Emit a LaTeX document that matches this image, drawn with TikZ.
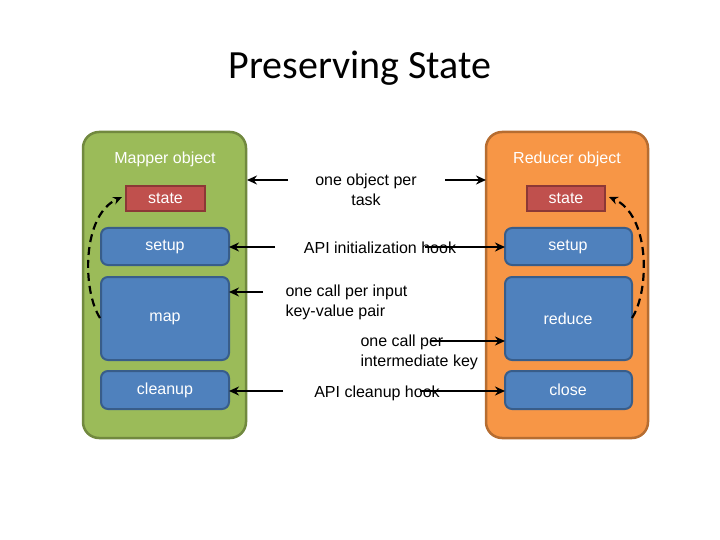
\documentclass[tikz,border=0pt]{standalone}
\usepackage{fontspec}
\setmainfont{Liberation Sans}
\newfontfamily\titlefont{Carlito}
\usetikzlibrary{arrows.meta}
\definecolor{grn}{HTML}{9BBB59}\definecolor{grnd}{HTML}{71893F}
\definecolor{org}{HTML}{F79646}\definecolor{orgd}{HTML}{B66D31}
\definecolor{blu}{HTML}{4F81BD}\definecolor{blud}{HTML}{385D8A}
\definecolor{rd}{HTML}{C0504D}\definecolor{rdd}{HTML}{8C3836}
\tikzset{
 panel/.style={rounded corners=16pt,line width=2.5pt},
 bbox/.style={fill=blu,draw=blud,line width=2pt,rounded corners=7pt},
 sbox/.style={fill=rd,draw=rdd,line width=2pt},
 wt/.style={text=white,font=\fontsize{16}{19}\selectfont},
 lbl/.style={font=\fontsize{16}{20}\selectfont,align=center},
 arr/.style={-{Stealth[length=10pt,width=9pt]},line width=2.2pt},
 dasharr/.style={dashed,dash pattern=on 8pt off 5pt,line width=2.2pt,-{Stealth[length=9pt,width=8pt]}}
}
\begin{document}
\begin{tikzpicture}[x=1pt,y=-1pt]
\useasboundingbox[fill=white] (0,0) rectangle (720,540);
\node[font=\titlefont\fontsize{40}{46}\selectfont] (title) at (360,68) {Preserving State};
\draw[panel,fill=grn,draw=grnd] (83,132) rectangle (246,438);
\draw[panel,fill=org,draw=orgd] (486,132) rectangle (648,438);
\node[wt] (mo) at (165,159) {Mapper object};
\node[wt] (ro) at (567,159) {Reducer object};
\draw[sbox] (126,186) rectangle (205,211); \node[wt] (ls) at (165.5,198.5) {state};
\draw[bbox] (101,228) rectangle (229,265); \node[wt] (lsu) at (165,246.5) {setup};
\draw[bbox] (101,277) rectangle (229,360); \node[wt] (lm) at (165,318.5) {map};
\draw[bbox] (101,371) rectangle (229,409); \node[wt] (lc) at (165,390) {cleanup};
\draw[sbox] (527,186) rectangle (605,211); \node[wt] (rs) at (566,198.5) {state};
\draw[bbox] (505,228) rectangle (632,265); \node[wt] (rsu) at (568,246.5) {setup};
\draw[bbox] (505,277) rectangle (632,360); \node[wt] (rr) at (568,318.5) {reduce};
\draw[bbox] (505,371) rectangle (632,409); \node[wt] (rc) at (568,390) {close};
\node[lbl] (t1) at (366,190) {one object per\\task};
\node[lbl] (t2) at (380,248) {API initialization hook};
\node[lbl,align=left,anchor=west] (t3) at (282,302) {one call per input\\key-value pair};
\node[lbl,align=left,anchor=west] (t4) at (357,352) {one call per\\intermediate key};
\node[lbl] (t5) at (377,393) {API cleanup hook};
\coordinate (a1) at (288,180); \coordinate (a1e) at (247,180);
\coordinate (b1) at (445,180); \coordinate (b1e) at (486,180);
\draw[arr] (a1) -- (a1e); \draw[arr] (b1) -- (b1e);
\coordinate (a2) at (275,247); \coordinate (a2e) at (229,247);
\coordinate (b2) at (425,247); \coordinate (b2e) at (505,247);
\draw[arr] (a2) -- (a2e); \draw[arr] (b2) -- (b2e);
\coordinate (a3) at (263,292); \coordinate (a3e) at (229,292);
\draw[arr] (a3) -- (a3e);
\coordinate (b4) at (430,341); \coordinate (b4e) at (505,341);
\draw[arr] (b4) -- (b4e);
\coordinate (a5) at (283,391); \coordinate (a5e) at (229,391);
\coordinate (b5) at (420,391); \coordinate (b5e) at (505,391);
\draw[arr] (a5) -- (a5e); \draw[arr] (b5) -- (b5e);
\coordinate (d1) at (100,318); \coordinate (d1e) at (122,197);
\draw[dasharr] (d1) .. controls (82,290) and (82,215) .. (d1e);
\coordinate (d2) at (632,318); \coordinate (d2e) at (609,197);
\draw[dasharr] (d2) .. controls (650,290) and (650,215) .. (d2e);
\end{tikzpicture}
\end{document}
